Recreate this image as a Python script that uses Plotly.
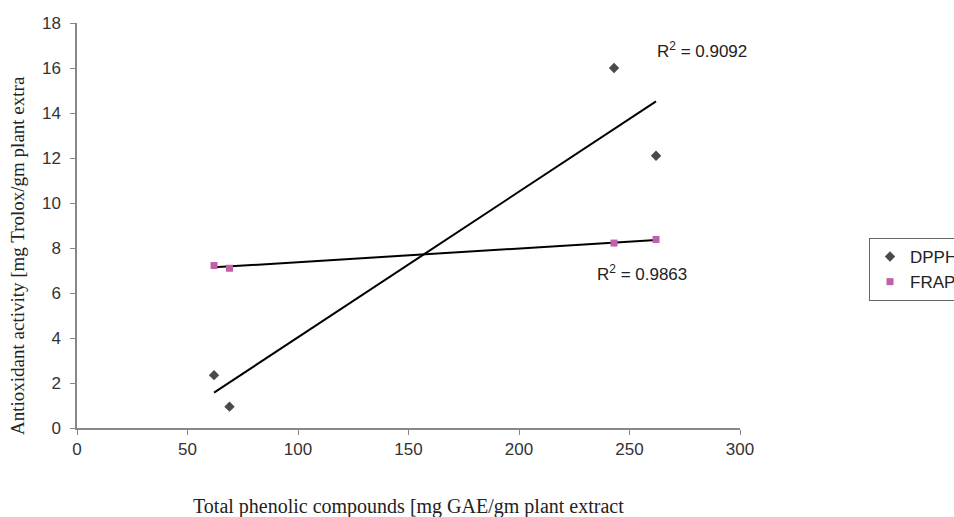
import numpy as np
import plotly.graph_objects as go

# Data
phenolic = [62, 69, 243, 262]          # Total phenolic compounds (mg GAE/gm)
dpph = [2.35, 0.95, 16.0, 12.1]         # DPPH antioxidant activity
frap = [7.22, 7.1, 8.22, 8.38]          # FRAP antioxidant activity
r2_labels = ["R<sup>2</sup> = 0.9092", "R<sup>2</sup> = 0.9863"]
series_names = ["DPPH", "FRAP"]

x_ticks = [0, 50, 100, 150, 200, 250, 300]
y_ticks = [0, 2, 4, 6, 8, 10, 12, 14, 16, 18]

W, H = 954, 517
L, R, T, B = 77, 214, 23, 89

fig = go.Figure()

# trend lines (linear fits)
xs = np.array([min(phenolic), max(phenolic)], dtype=float)
for ys in (dpph, frap):
    k, b = np.polyfit(phenolic, ys, 1)
    fig.add_trace(go.Scatter(x=xs, y=k * xs + b, mode="lines",
                             line=dict(color="black", width=2),
                             showlegend=False, hoverinfo="skip"))

fig.add_trace(go.Scatter(x=phenolic, y=dpph, mode="markers", name=series_names[0],
                         marker=dict(symbol="diamond", size=8, color="#4a4a4a")))
fig.add_trace(go.Scatter(x=phenolic, y=frap, mode="markers", name=series_names[1],
                         marker=dict(symbol="square", size=7, color="#c060a8")))

tickfont = dict(family="Liberation Sans, Arial, sans-serif", size=17, color="#333333")
fig.update_xaxes(range=[0, 300], tickvals=x_ticks, showgrid=False, zeroline=False,
                 showline=True, linecolor="#888888", linewidth=1.5,
                 ticks="outside", ticklen=5, tickcolor="#888888", tickfont=tickfont)
fig.update_yaxes(range=[0, 18], tickvals=y_ticks, showgrid=False, zeroline=False,
                 showline=True, linecolor="#888888", linewidth=1.5,
                 ticks="outside", ticklen=5, tickcolor="#888888", tickfont=tickfont,
                 ticklabelstandoff=6)

annfont = dict(family="Liberation Sans, Arial, sans-serif", size=17, color="#222222")
fig.add_annotation(x=261.5, y=16.8, text=r2_labels[0], showarrow=False,
                   xanchor="left", yanchor="middle", font=annfont)
fig.add_annotation(x=234.5, y=6.9, text=r2_labels[1], showarrow=False,
                   xanchor="left", yanchor="middle", font=annfont)

pw, ph = W - L - R, H - T - B
fig.add_annotation(xref="paper", yref="paper",
                   x=(17 - L) / pw, y=(H - B - 256) / ph,
                   text="Antioxidant activity [mg Trolox/gm plant extra",
                   textangle=-90, showarrow=False, xanchor="center", yanchor="middle",
                   font=dict(family="Liberation Serif, Times New Roman, serif", size=19,
                             color="#222222"))
fig.add_annotation(xref="paper", yref="paper",
                   x=(408 - L) / pw, y=(H - B - 506) / ph,
                   text="Total phenolic compounds [mg GAE/gm plant extract",
                   showarrow=False, xanchor="center", yanchor="middle",
                   font=dict(family="Liberation Serif, Times New Roman, serif", size=20,
                             color="#222222"))

fig.update_layout(
    width=W, height=H,
    margin=dict(l=L, r=R, t=T, b=B, autoexpand=False),
    plot_bgcolor="white", paper_bgcolor="white",
    legend=dict(x=(869 - L) / pw, y=(H - B - 238) / ph, xanchor="left", yanchor="top",
                bordercolor="#666666", borderwidth=1, itemwidth=30,
                font=dict(family="Liberation Sans, Arial, sans-serif", size=17, color="#222222"),
                tracegroupgap=0),
)

fig.write_html("out.html")
